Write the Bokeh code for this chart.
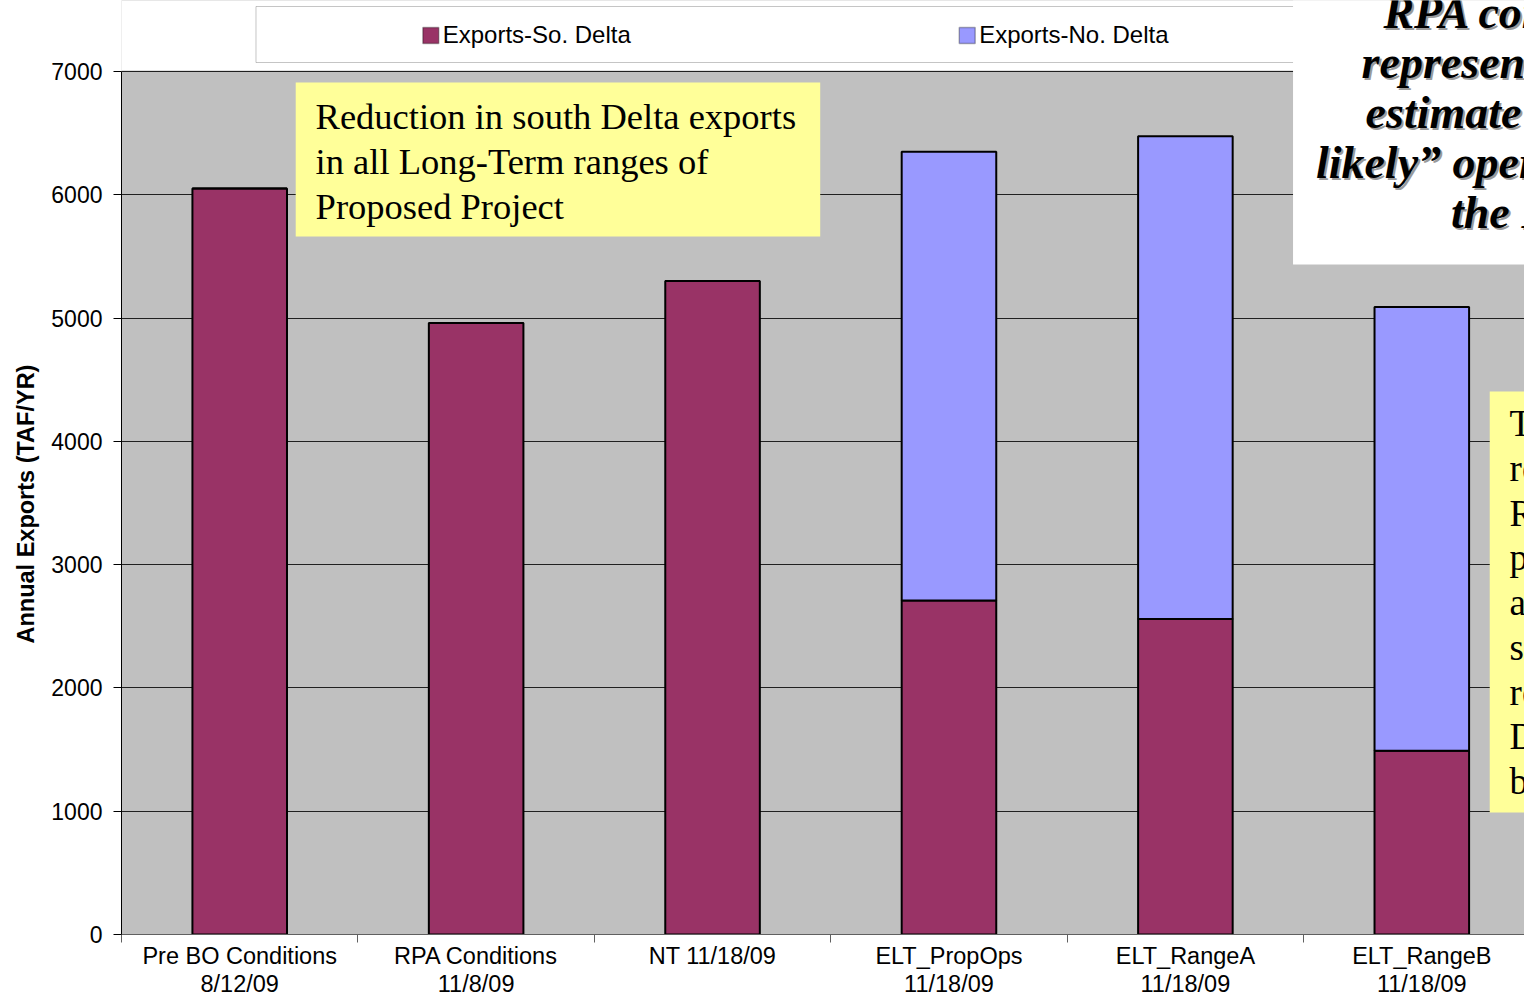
from bokeh.plotting import figure
from bokeh.models import FixedTicker, BoxAnnotation, Label, Range1d, ColumnDataSource, Title
from bokeh.embed import file_html
from bokeh.resources import INLINE

# ---- data ----
categories = ["Pre BO Conditions\n8/12/09", "RPA Conditions\n11/8/09", "NT 11/18/09",
              "ELT_PropOps\n11/18/09", "ELT_RangeA\n11/18/09", "ELT_RangeB\n11/18/09"]
south_delta = [6050, 4960, 5300, 2710, 2560, 1490]
north_delta = [0, 0, 0, 3640, 3915, 3600]
y_ticks = [0, 1000, 2000, 3000, 4000, 5000, 6000, 7000]
series_names = ["Exports-So. Delta", "Exports-No. Delta"]
series_colors = ["#993366", "#9999FF"]
y_title = "Annual Exports (TAF/YR)"

box1_lines = ["Reduction in south Delta exports", "in all Long-Term ranges of", "Proposed Project"]
box2_lines = ["RPA conditions", "represent best", "estimate of \u201cmost", "likely\u201d operations of", "the RPA"]
box3_lines = ["The", "reduction", "RPA", "project", "are", "south", "reduced", "Delta", "by"]

# ---- layout geometry (reference pixels -> data) ----
W, H = 1524, 1000
SX = W / 1532.0
FRAME_L = round(120 * SX)
FRAME_T, FRAME_B = 71, 934
CAT_PX = 238.0 * SX
YMAX = 7000


def X(px):
    return (px * SX - FRAME_L) / CAT_PX


def Y(py):
    return (FRAME_B - py) * YMAX / (FRAME_B - FRAME_T)


xs = [i + 0.5 for i in range(len(categories))]
src = ColumnDataSource(dict(x=xs, south=south_delta, north=north_delta))

p = figure(width=W, height=H, x_range=Range1d(0, (W - FRAME_L) / CAT_PX), y_range=Range1d(0, Y(0)),
           output_backend="svg", toolbar_location=None,
           min_border_left=FRAME_L, min_border_right=0,
           min_border_top=0, min_border_bottom=H - FRAME_B)
p.background_fill_color = "#C0C0C0"
p.border_fill_color = "white"
p.outline_line_color = None

p.vbar_stack(["south", "north"], x="x", width=0.4, source=src,
             fill_color=series_colors, line_color="black", line_width=2)

# x axis
xax = p.xaxis[0]
xax.ticker = FixedTicker(ticks=xs, minor_ticks=list(range(len(categories) + 1)))
xax.major_label_overrides = {x: c for x, c in zip(xs, categories)}
xax.major_tick_out = 0
xax.major_tick_in = 0
xax.minor_tick_out = 8
xax.minor_tick_in = 0
xax.minor_tick_line_color = "#606060"
xax.axis_line_color = "#606060"
xax.major_label_text_font = "Liberation Sans"
xax.major_label_text_font_size = "23.5px"
xax.major_label_text_line_height = 1.1
xax.major_label_text_color = "black"
xax.major_label_standoff = 0

# y axis
yax = p.yaxis[0]
yax.ticker = FixedTicker(ticks=y_ticks)
yax.bounds = (0, YMAX)
yax.major_tick_out = 8
yax.major_tick_in = 0
yax.minor_tick_out = 0
yax.minor_tick_in = 0
yax.axis_line_color = "black"
yax.major_label_text_font = "Liberation Sans"
yax.major_label_text_font_size = "23px"
yax.major_label_text_color = "black"
yax.major_label_standoff = 11

p.add_layout(Title(text=y_title, align="left", offset=291, standoff=20,
                   text_font="Liberation Sans", text_font_size="23.5px",
                   text_font_style="bold", text_color="black"), "left")

p.xgrid.grid_line_color = None
p.ygrid.grid_line_color = "#202020"
p.ygrid.grid_line_width = 1

# white area above the plot area
p.add_layout(BoxAnnotation(bottom=Y(70), left=-1, right=100, fill_color="white",
                           fill_alpha=1, line_color=None))

# yellow box 1
p.add_layout(BoxAnnotation(left=X(295), right=X(823), top=Y(82), bottom=Y(236),
                           fill_color="#FFFF99", fill_alpha=1, line_color=None))
for i, t in enumerate(box1_lines):
    p.add_layout(Label(x=X(315), y=Y(116 + 45 * i), text=t, text_baseline="middle",
                       text_font="Liberation Serif", text_font_size="36.5px", text_color="black"))

# yellow box 3 (right)
p.add_layout(BoxAnnotation(left=X(1497), right=X(1600), top=Y(391), bottom=Y(812),
                           fill_color="#FFFF99", fill_alpha=1, line_color=None))
for i, t in enumerate(box3_lines):
    p.add_layout(Label(x=X(1517), y=Y(423 + 44.75 * i), text=t, text_baseline="middle",
                       text_font="Liberation Serif", text_font_size="37px", text_color="black"))

# legend box
p.add_layout(BoxAnnotation(left=X(255), right=X(1310), top=Y(6), bottom=Y(62),
                           fill_color="white", fill_alpha=1, line_color="#404040", line_width=1))
leg_x = [423, 963]
for lx, name, col in zip(leg_x, series_names, series_colors):
    p.add_layout(BoxAnnotation(left=X(lx), right=X(lx + 16), top=Y(27), bottom=Y(43),
                               fill_color=col, fill_alpha=1, line_color="black", line_width=1.5))
    p.add_layout(Label(x=X(lx + 20), y=Y(34), text=name, text_baseline="middle",
                       text_font="Liberation Sans", text_font_size="24px", text_color="black"))

# white box (top right)
p.add_layout(BoxAnnotation(left=X(1299), right=X(1600), top=Y(-20), bottom=Y(264),
                           fill_color="white", fill_alpha=1, line_color=None))
b2_x = [1390, 1368, 1372, 1322, 1458]
for i, (t, bx) in enumerate(zip(box2_lines, b2_x)):
    yy = 12 + 50 * i
    p.add_layout(Label(x=X(bx + 2), y=Y(yy + 2), text=t, text_baseline="middle",
                       text_font="Liberation Serif", text_font_style="bold italic",
                       text_font_size="46px", text_color="#9a9a9a"))
    p.add_layout(Label(x=X(bx), y=Y(yy), text=t, text_baseline="middle",
                       text_font="Liberation Serif", text_font_style="bold italic",
                       text_font_size="46px", text_color="black"))

open("out.html", "w").write(file_html(p, INLINE))
